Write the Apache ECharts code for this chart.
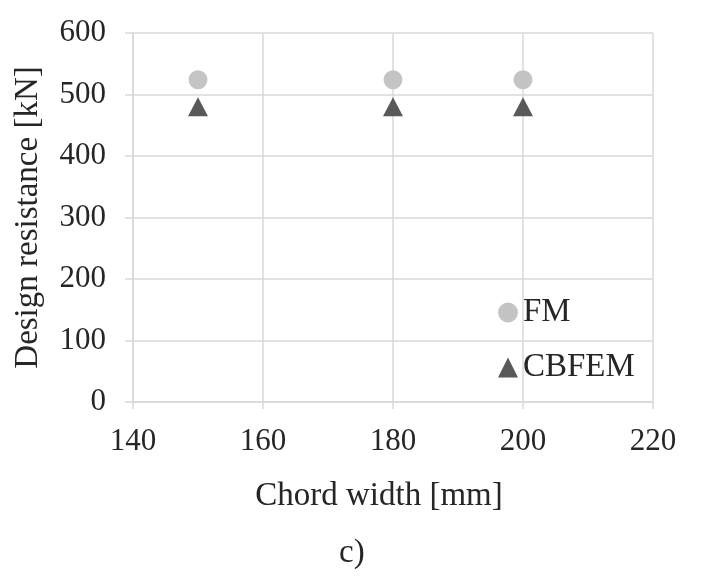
<!DOCTYPE html>
<html>
<head>
<meta charset="utf-8">
<script src="https://cdn.jsdelivr.net/npm/echarts@6/dist/echarts.min.js"></script>
<style>html,body{margin:0;padding:0;background:#fff}#c{width:718px;height:577px}</style>
</head>
<body>
<div id="c"></div>
<script>
var chordWidth = [150, 180, 200];
var fmValues = [524, 524, 524];
var cbfemValues = [480, 480, 480];
var xTicks = [140, 160, 180, 200, 220];
var yTicks = [0, 100, 200, 300, 400, 500, 600];

var FONT = '"Liberation Serif", "Times New Roman", serif';
var chart = echarts.init(document.getElementById('c'));
function pairs(xs, ys){ return xs.map(function(x,i){return [x, ys[i]];}); }
chart.setOption({
  animation: false,
  backgroundColor: '#fff',
  textStyle: {fontFamily: FONT},
  grid: {left: 133, right: 65, top: 33, bottom: 175},
  title: {
    text: 'c)', left: 334, top: 532,
    textStyle: {fontFamily: FONT, fontSize: 33, fontWeight: 'normal', color: '#262626'}
  },
  legend: {
    left: 493, top: 291, orient: 'vertical', itemGap: 22,
    itemWidth: 20, itemHeight: 20,
    textStyle: {fontFamily: FONT, fontSize: 33, color: '#262626', padding: [0,0,0,0]},
    data: [{name: 'FM', icon: 'circle'}, {name: 'CBFEM', icon: 'triangle'}]
  },
  xAxis: {
    type: 'value', min: xTicks[0], max: xTicks[xTicks.length-1], interval: 20,
    name: 'Chord width [mm]', nameLocation: 'middle', nameGap: 78,
    nameTextStyle: {fontFamily: FONT, fontSize: 33, color: '#262626', padding: [0, 28, 0, 0]},
    axisLine: {show: true, lineStyle: {color: '#d9d9d9', width: 1.5}},
    axisTick: {show: true, length: 7, lineStyle: {color: '#d9d9d9', width: 1.5}},
    splitLine: {show: true, lineStyle: {color: '#d9d9d9', width: 1.5}},
    axisLabel: {fontFamily: FONT, fontSize: 31, color: '#262626', margin: 24}
  },
  yAxis: {
    type: 'value', min: yTicks[0], max: yTicks[yTicks.length-1], interval: 100,
    name: 'Design resistance [kN]', nameLocation: 'middle', nameGap: 88,
    nameTextStyle: {fontFamily: FONT, fontSize: 33, color: '#262626'},
    axisLine: {show: true, lineStyle: {color: '#d9d9d9', width: 1.5}},
    axisTick: {show: true, length: 8, lineStyle: {color: '#d9d9d9', width: 1.5}},
    splitLine: {show: true, lineStyle: {color: '#d9d9d9', width: 1.5}},
    axisLabel: {fontFamily: FONT, fontSize: 31, color: '#262626', margin: 27}
  },
  series: [
    {name: 'FM', type: 'scatter', symbol: 'circle', symbolSize: 19,
     itemStyle: {color: '#c4c4c4', opacity: 1}, data: pairs(chordWidth, fmValues)},
    {name: 'CBFEM', type: 'scatter', symbol: 'triangle', symbolSize: [20, 19],
     itemStyle: {color: '#595959', opacity: 1}, data: pairs(chordWidth, cbfemValues)}
  ]
});
</script>
</body>
</html>
